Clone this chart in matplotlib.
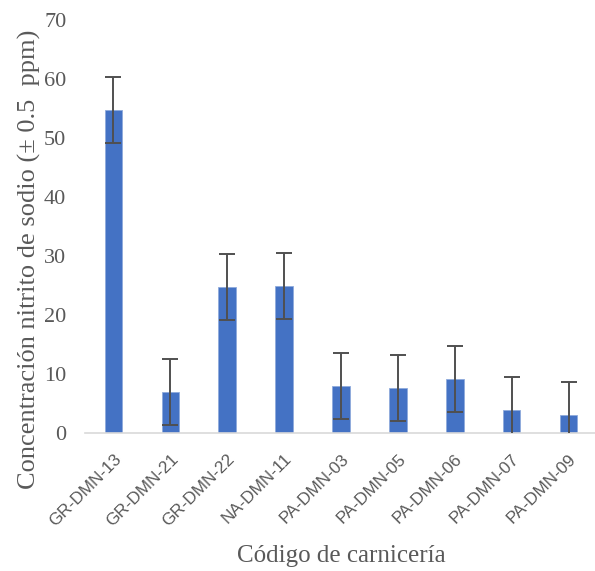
import matplotlib.pyplot as plt
import numpy as np

codigos = ['GR-DMN-13', 'GR-DMN-21', 'GR-DMN-22', 'NA-DMN-11', 'PA-DMN-03',
           'PA-DMN-05', 'PA-DMN-06', 'PA-DMN-07', 'PA-DMN-09']
nitrito = [54.7, 6.9, 24.7, 24.9, 8.0, 7.6, 9.2, 3.9, 3.0]
error = [5.6, 5.6, 5.6, 5.6, 5.6, 5.6, 5.6, 5.6, 5.6]

gris = '#595959'
serif = ['Liberation Serif', 'DejaVu Serif']

fig = plt.figure(figsize=(5.95, 5.71), dpi=100)
ax = fig.add_axes([85 / 595, 138 / 571, 512 / 595, 413 / 571])

x = np.arange(len(codigos))
ax.bar(x, nitrito, width=0.31, color='#4472C4', edgecolor='#8faadc', linewidth=0.6, zorder=2)
ax.errorbar(x, nitrito, yerr=error, fmt='none', ecolor='#505050', elinewidth=1.4,
            capsize=5.8, capthick=1.4, zorder=3)

ax.set_xlim(-0.5, len(codigos) - 0.5)
ax.set_ylim(0, 70)
ax.set_yticks(np.arange(0, 71, 10))
ax.set_xticks(x)
ax.set_xticklabels(codigos, rotation=45, ha='right', rotation_mode='anchor',
                   fontsize=12.3, color=gris, family=['Liberation Sans', 'DejaVu Sans'])
for lbl in ax.get_yticklabels():
    lbl.set_family(serif)
    lbl.set_fontsize(16)
    lbl.set_color(gris)

ax.tick_params(axis='both', length=0)
ax.tick_params(axis='y', pad=13.5)
ax.tick_params(axis='x', pad=13)
for s in ['top', 'right', 'left']:
    ax.spines[s].set_visible(False)
ax.spines['bottom'].set_color('#d9d9d9')
ax.spines['bottom'].set_linewidth(1.2)

ax.set_ylabel('Concentración nitrito de sodio (± 0.5  ppm)', family=serif,
              fontsize=19, color=gris)
ax.yaxis.set_label_coords(-0.086, 0.42)
ax.set_xlabel('Código de carnicería', family=serif, fontsize=18, color=gris, labelpad=12)

fig.savefig('out.png', dpi=100)
